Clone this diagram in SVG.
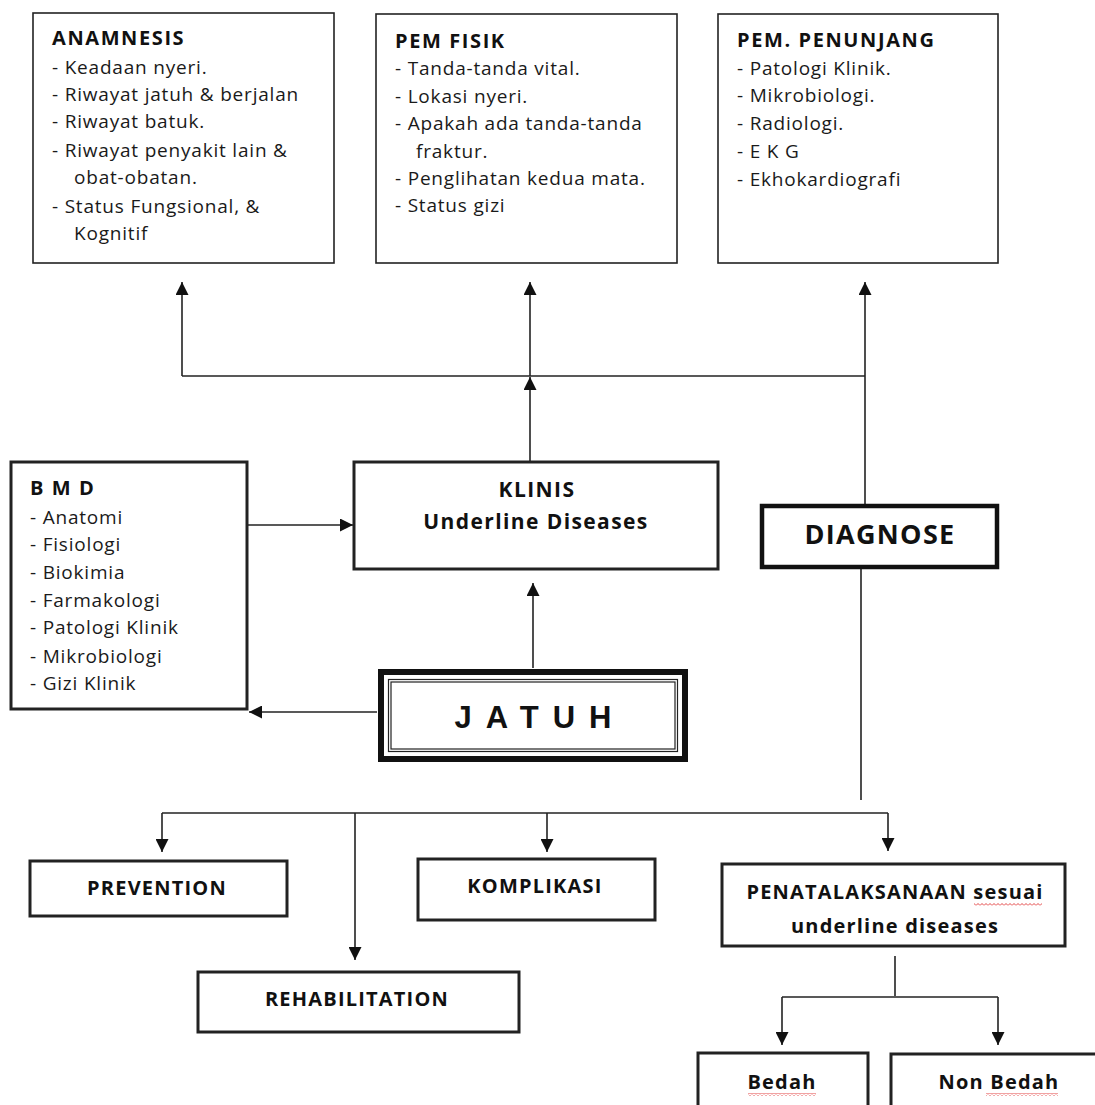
<svg xmlns="http://www.w3.org/2000/svg" width="1095" height="1105" viewBox="0 0 1095 1105">
<defs>
<marker id="ah" viewBox="0 0 10 10" refX="10" refY="5" markerWidth="13" markerHeight="13" markerUnits="userSpaceOnUse" orient="auto">
<path d="M0,0 L10,5 L0,10 z" fill="#111"/>
</marker>
<pattern id="wave" width="4" height="3" patternUnits="userSpaceOnUse">
<path d="M0,2.5 L2,0.5 L4,2.5" fill="none" stroke="#e03030" stroke-width="0.9"/>
</pattern>
<style>
.box{fill:#fff;stroke:#222;stroke-width:1.6}
.box2{fill:#fff;stroke:#222;stroke-width:3}
.box3{fill:#fff;stroke:#111;stroke-width:4.5}
.t{font-family:"Open Sans","Noto Sans",sans-serif;font-size:19px;letter-spacing:0.8px;fill:#1a1a1a}
.h{font-family:"Open Sans","Noto Sans",sans-serif;font-size:20px;letter-spacing:1.6px;font-weight:bold;fill:#111}
.c{font-family:"Open Sans","Noto Sans",sans-serif;font-size:20px;letter-spacing:1.2px;font-weight:bold;fill:#111;text-anchor:middle}
.ln{fill:none;stroke:#222;stroke-width:1.6}
.ar{fill:none;stroke:#222;stroke-width:1.6;marker-end:url(#ah)}
.sp{fill:url(#wave)}
</style>
</defs>
<rect width="1095" height="1105" fill="#fff"/>
<g id="connectors">
<path class="ln" d="M182,376 H865"/>
<path class="ar" d="M182,376 V282"/>
<path class="ar" d="M530,376 V282"/>
<path class="ar" d="M865,376 V282"/>
<path class="ar" d="M530,461 V377"/>
<path class="ln" d="M865,376 V505"/>
<path class="ar" d="M248,525 H353"/>
<path class="ar" d="M533,668 V583"/>
<path class="ar" d="M377,712 H249"/>
<path class="ln" d="M861,568 V800"/>
<path class="ln" d="M162,813 H888"/>
<path class="ar" d="M162,813 V852"/>
<path class="ar" d="M355,813 V960"/>
<path class="ar" d="M547,813 V852"/>
<path class="ar" d="M888,813 V851"/>
<path class="ln" d="M895,956 V996"/>
<path class="ln" d="M782,997 H998"/>
<path class="ar" d="M782,997 V1045"/>
<path class="ar" d="M998,997 V1045"/>
</g>
<g id="anamnesis">
<rect class="box" x="33" y="13" width="301" height="250"/>
<text class="h" x="52" y="45">ANAMNESIS</text>
<text class="t" x="52" y="74">- Keadaan nyeri.</text>
<text class="t" x="52" y="101">- Riwayat jatuh &amp; berjalan</text>
<text class="t" x="52" y="128">- Riwayat batuk.</text>
<text class="t" x="52" y="157">- Riwayat penyakit lain &amp;</text>
<text class="t" x="74" y="184">obat-obatan.</text>
<text class="t" x="52" y="213">- Status Fungsional, &amp;</text>
<text class="t" x="74" y="240">Kognitif</text>
</g>
<g id="pem-fisik">
<rect class="box" x="376" y="14" width="301" height="249"/>
<text class="h" x="395" y="48">PEM FISIK</text>
<text class="t" x="395" y="75">- Tanda-tanda vital.</text>
<text class="t" x="395" y="103">- Lokasi nyeri.</text>
<text class="t" x="395" y="130">- Apakah ada tanda-tanda</text>
<text class="t" x="416" y="158">fraktur.</text>
<text class="t" x="395" y="185">- Penglihatan kedua mata.</text>
<text class="t" x="395" y="212">- Status gizi</text>
</g>
<g id="pem-penunjang">
<rect class="box" x="718" y="14" width="280" height="249"/>
<text class="h" x="737" y="47">PEM. PENUNJANG</text>
<text class="t" x="737" y="75">- Patologi Klinik.</text>
<text class="t" x="737" y="102">- Mikrobiologi.</text>
<text class="t" x="737" y="130">- Radiologi.</text>
<text class="t" x="737" y="158">- E K G</text>
<text class="t" x="737" y="186">- Ekhokardiografi</text>
</g>
<g id="bmd">
<rect class="box2" x="11" y="462" width="236" height="247"/>
<text class="h" x="30" y="495">B M D</text>
<text class="t" x="30" y="524">- Anatomi</text>
<text class="t" x="30" y="551">- Fisiologi</text>
<text class="t" x="30" y="579">- Biokimia</text>
<text class="t" x="30" y="607">- Farmakologi</text>
<text class="t" x="30" y="634">- Patologi Klinik</text>
<text class="t" x="30" y="663">- Mikrobiologi</text>
<text class="t" x="30" y="690">- Gizi Klinik</text>
</g>
<g id="klinis">
<rect class="box2" x="354" y="462" width="364" height="107"/>
<text class="c" x="537" y="497" style="font-size:21px;letter-spacing:1.4px">KLINIS</text>
<text class="c" x="536" y="529" style="font-size:21px;letter-spacing:1.4px">Underline Diseases</text>
</g>
<g id="diagnose">
<rect class="box3" x="762" y="506" width="235" height="61"/>
<text class="c" x="880" y="544" style="font-size:27px;letter-spacing:1.3px">DIAGNOSE</text>
</g>
<g id="jatuh">
<rect x="378" y="669" width="310" height="93" fill="#fff" stroke="none"/>
<rect x="381" y="672" width="304" height="87" fill="none" stroke="#111" stroke-width="6"/>
<rect x="388.5" y="679.5" width="289" height="72" fill="none" stroke="#222" stroke-width="1.2"/>
<rect x="391" y="682" width="284" height="67" fill="none" stroke="#222" stroke-width="1.2"/>
<text x="540" y="728" text-anchor="middle" style="font-family:'Liberation Sans',Arial,sans-serif;font-size:31px;font-weight:bold;letter-spacing:14px;fill:#111">JATUH</text>
</g>
<g id="prevention">
<rect class="box2" x="30" y="861" width="257" height="55"/>
<text class="c" x="157" y="895">PREVENTION</text>
</g>
<g id="rehabilitation">
<rect class="box2" x="198" y="972" width="321" height="60"/>
<text class="c" x="357" y="1006">REHABILITATION</text>
</g>
<g id="komplikasi">
<rect class="box2" x="418" y="859" width="237" height="61"/>
<text class="c" x="535" y="893">KOMPLIKASI</text>
</g>
<g id="penatalaksanaan">
<rect class="box2" x="722" y="864" width="343" height="82"/>
<text class="c" x="895" y="899">PENATALAKSANAAN sesuai</text>
<text class="c" x="895" y="933">underline diseases</text>
<rect class="sp" x="974" y="903" width="68" height="3"/>
</g>
<g id="bedah">
<rect class="box2" x="698" y="1053" width="170" height="60"/>
<text class="c" x="782" y="1089">Bedah</text>
<rect class="sp" x="748" y="1093" width="68" height="3"/>
</g>
<g id="non-bedah">
<rect class="box2" x="891" y="1054" width="210" height="60"/>
<text class="c" x="999" y="1089">Non Bedah</text>
<rect class="sp" x="986" y="1093" width="72" height="3"/>
</g>
</svg>
